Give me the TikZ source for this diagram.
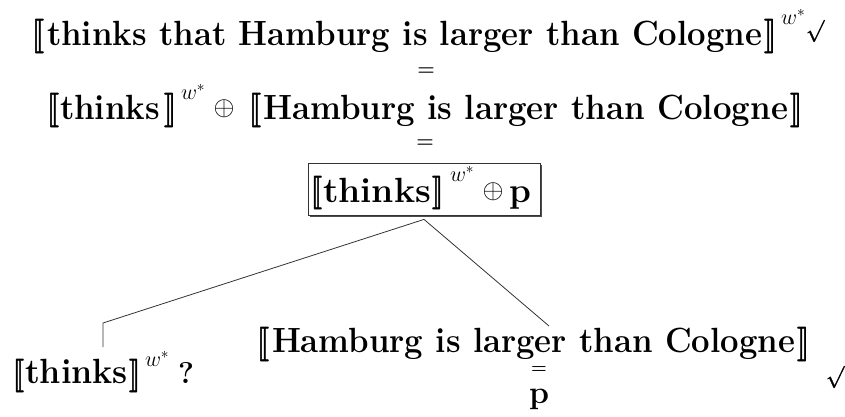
\RequirePackage{fix-cm}
\documentclass[tikz,border=0pt]{standalone}
\usepackage{stmaryrd}
\usepackage{graphicx}
\usetikzlibrary{shadows}
\newcommand{\thickglyph}[2]{\special{pdf:literal direct 2 Tr #1 w}#2\special{pdf:literal direct 0 Tr}}
\newcommand{\dlb}[2]{\resizebox*{#1}{#2}{\thickglyph{0.18}{$\llbracket$}}}
\newcommand{\drb}[2]{\resizebox*{#1}{#2}{\thickglyph{0.18}{$\rrbracket$}}}
\newcommand{\chkmark}{\thickglyph{0.3}{$\surd$}}
\tikzset{
  bit/.style={inner sep=0pt, outer sep=0pt},
  txt/.style={bit, font=\fontsize{35}{40}\selectfont\bfseries},
  sup/.style={bit, font=\fontsize{22}{26}\selectfont},
  eqs/.style={bit, font=\fontsize{20}{24}\selectfont\bfseries},
  chk/.style={bit, font=\fontsize{22}{26}\selectfont},
  opl/.style={bit, font=\fontsize{27}{32}\selectfont},
  boxed/.style={draw=black!80, line width=0.8pt, fill=white, minimum width=232pt, minimum height=52pt, inner sep=0pt,
    drop shadow={shadow xshift=2pt, shadow yshift=-2pt, fill=black!70, opacity=1}},
  conn/.style={draw=black!80, line width=0.8pt}
}
\begin{document}
\begin{tikzpicture}[x=1pt,y=-1pt]
\path[use as bounding box] (0,0) rectangle (845,416);
% line 1
\node[bit, anchor=north west] (lb1) at (32,19) {\dlb{12pt}{34pt}};
\node[txt, anchor=base west] (w1) at (47,45) {\resizebox{715pt}{\height}{thinks that Hamburg is larger than Cologne}};
\node[bit, anchor=north west] (rb1) at (764,19) {\drb{12pt}{34pt}};
\node[sup, anchor=north west] (s1) at (781,9) {$w^{*}$};
\node[chk, anchor=north west] (c1) at (806,20) {\chkmark};
\node[eqs] (e1) at (426,72) {=};
% line 2
\node[bit, anchor=north west] (lb2) at (47,93) {\dlb{12pt}{34pt}};
\node[txt, anchor=base west] (t2) at (60,119) {\resizebox{100pt}{\height}{thinks}};
\node[bit, anchor=north west] (rb2) at (164,93) {\drb{12pt}{34pt}};
\node[sup, anchor=north west] (s2) at (181,84) {$w^{*}$};
\node[opl] (op2) at (224,109) {$\oplus$};
\node[bit, anchor=north west] (lb2b) at (249,93) {\dlb{12pt}{34pt}};
\node[txt, anchor=base west] (h2) at (263,119) {\resizebox{525pt}{\height}{Hamburg is larger than Cologne}};
\node[bit, anchor=north west] (rb2b) at (790,93) {\drb{12pt}{34pt}};
\node[eqs] (e2) at (425,144) {=};
% boxed formula
\node[boxed] (box) at (424,189) {};
\node[bit, anchor=north west] (lb3) at (311,176) {\dlb{11pt}{33pt}};
\node[txt, anchor=base west] (t3) at (323,202) {\resizebox{108pt}{\height}{thinks}};
\node[bit, anchor=north west] (rb3) at (432,176) {\drb{11pt}{33pt}};
\node[sup, anchor=north west] (s3) at (450,166) {$w^{*}$};
\node[opl] (op3) at (493,192) {$\oplus$};
\node[txt, anchor=base west] (p3) at (509,202) {p};
% bottom left
\node[bit, anchor=north west] (lb4) at (13,359) {\dlb{11pt}{33pt}};
\node[txt, anchor=base west] (t4) at (25,383) {\resizebox{103pt}{\height}{thinks}};
\node[bit, anchor=north west] (rb4) at (129,359) {\drb{11pt}{33pt}};
\node[sup, anchor=north west] (s4) at (145,351) {$w^{*}$};
\node[txt, anchor=base west, font=\fontsize{30}{34}\selectfont\bfseries] (q4) at (178,383) {?};
% bottom centre
\node[bit, anchor=north west] (lb5) at (257,327) {\dlb{12pt}{34pt}};
\node[txt, anchor=base west] (h5) at (272,352) {\resizebox{523pt}{\height}{Hamburg is larger than Cologne}};
\node[bit, anchor=north west] (rb5) at (797,327) {\drb{12pt}{34pt}};
\node[eqs, font=\fontsize{18}{22}\selectfont\bfseries] (e3) at (539,370) {=};
\node[txt, anchor=base, font=\fontsize{32}{36}\selectfont\bfseries] (p5) at (539,403) {p};
\node[chk, anchor=north west] (c5) at (826,366) {\chkmark};
% connectors
\coordinate (apex) at ([yshift=-4pt]box.south);
\coordinate (bend) at (103,323);
\coordinate (lend) at (103,347);
\coordinate (rend) at (549,326);
\draw[conn] (apex) -- (bend) -- (lend);
\draw[conn] (apex) -- (rend);
\end{tikzpicture}
\end{document}
